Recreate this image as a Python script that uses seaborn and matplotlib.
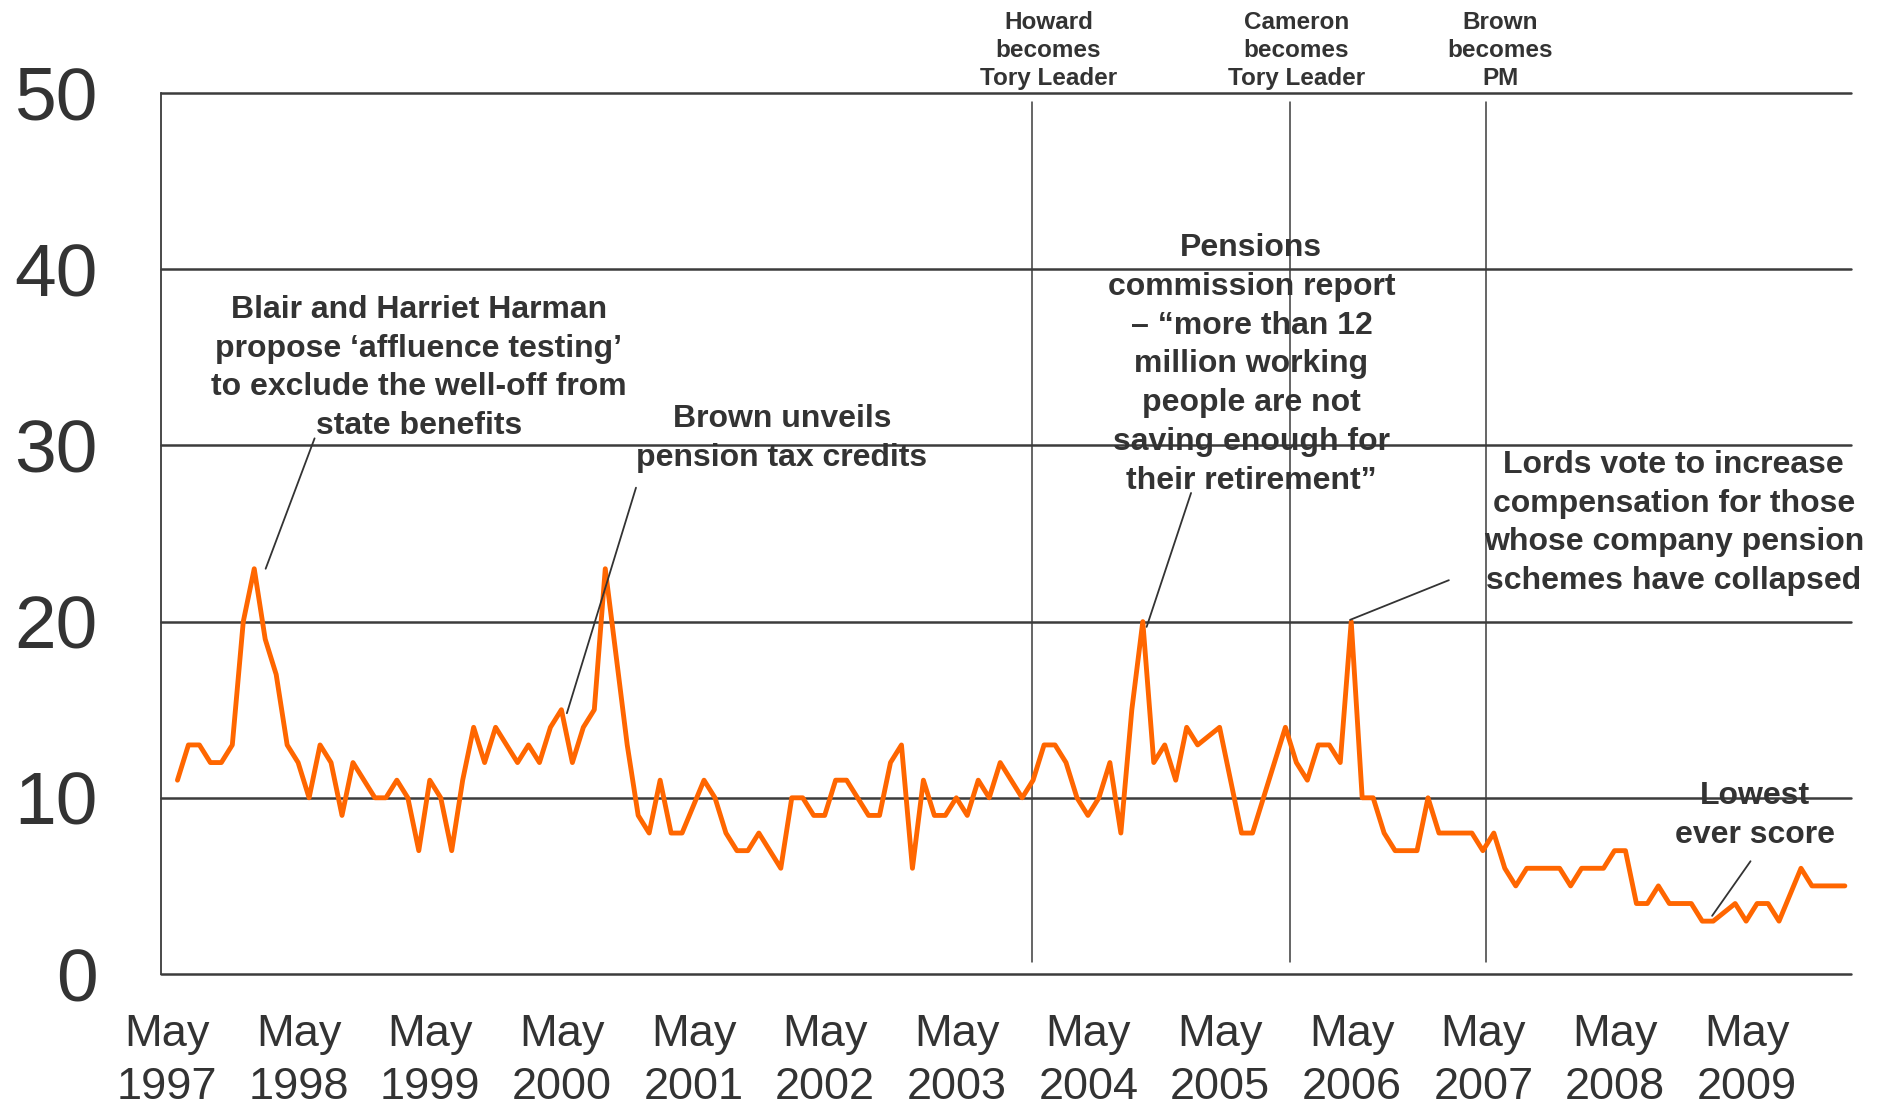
import numpy as np
import pandas as pd
import seaborn as sns
import matplotlib.pyplot as plt
from matplotlib.transforms import ScaledTranslation

# Monthly score from June 1997 (None = no reading that month)
score = [11, 13, 13, 12, 12, 13, 20, 23, 19, 17, 13, 12,
         10, 13, 12, 9, 12, 11, 10, 10, 11, 10, 7, 11,
         10, 7, 11, 14, 12, 14, 13, 12, 13, 12, 14, 15,
         12, 14, 15, 23, 18, 13, 9, 8, 11, 8, 8, None,
         11, 10, 8, 7, 7, 8, 7, 6, 10, 10, 9, 9,
         11, 11, 10, 9, 9, 12, 13, 6, 11, 9, 9, 10,
         9, 11, 10, 12, 11, 10, 11, 13, 13, 12, 10, 9,
         10, 12, 8, 15, 20, 12, 13, 11, 14, 13, None, 14,
         11, 8, 8, 10, 12, 14, 12, 11, 13, 13, 12, 20,
         10, 10, 8, 7, 7, 7, 10, 8, 8, 8, 8, 7,
         8, 6, 5, 6, 6, 6, 6, 5, 6, 6, 6, 7,
         7, 4, 4, 5, 4, 4, 4, 3, 3, None, 4, 3,
         4, 4, 3, None, 6, 5, 5, 5, 5]

tick_years = list(range(1997, 2010))
tick_labels = ['May\n%d' % y for y in tick_years]
y_ticks = [0, 10, 20, 30, 40, 50]

# political events (months after May 1997)
event_labels = ['Howard\nbecomes\nTory Leader', 'Cameron\nbecomes\nTory Leader', 'Brown\nbecomes\nPM']
event_month = [79.4, 102.9, 120.8]

df = pd.DataFrame({'month': np.arange(1, len(score) + 1) + 0.5, 'score': score}).dropna()

sns.set_style('white')
plt.rcParams['font.family'] = ['Liberation Sans', 'DejaVu Sans']

TXT = '#333333'
LN = '#3c3c3c'

fig = plt.figure(figsize=(18.77, 11.02), dpi=100)
ax = fig.add_axes([161 / 1877, 128 / 1102, 1690 / 1877, 881 / 1102])

sns.lineplot(data=df, x='month', y='score', color='#FF6600', lw=3.5, ax=ax, zorder=5)

ax.set_xlim(0, 154.06)
ax.set_ylim(0, 50)
ax.set_xlabel('')
ax.set_ylabel('')

for s in ['top', 'right', 'bottom']:
    ax.spines[s].set_visible(False)
ax.spines['left'].set_color(LN)
ax.spines['left'].set_linewidth(1.3)

ax.set_yticks(y_ticks)
ax.tick_params(axis='y', length=19.4, width=1.8, color=LN, pad=26,
               labelsize=54, labelcolor=TXT)
ax.yaxis.grid(True, color=LN, lw=1.8)
ax.xaxis.grid(False)
for gl in ax.yaxis.get_gridlines():
    gl.set_clip_on(False)

ax.set_xticks([12 * i for i in range(len(tick_years))])
ax.set_xticklabels(tick_labels, linespacing=1.36)
ax.tick_params(axis='x', length=10, width=1.2, color=LN, pad=19,
               labelsize=32.5, labelcolor=TXT)
shift = ScaledTranslation(6 / 100, 0, fig.dpi_scale_trans)
for lbl in ax.get_xticklabels():
    lbl.set_transform(lbl.get_transform() + shift)

# event lines with labels above the plot
label_month = [80.9, 103.5, 122.1]
for m, lm, txt in zip(event_month, label_month, event_labels):
    ax.plot([m, m], [0.66, 49.5], color=LN, lw=1.1, zorder=3)
    ax.text(lm, 50.15, txt, ha='center', va='bottom', fontsize=17.5,
            fontweight='bold', color=TXT, linespacing=1.28, clip_on=False)

notes = [
    ("Blair and Harriet Harman\npropose \u2018affluence testing\u2019\nto exclude the well-off from\nstate benefits",
     (23.5, 34.4), (14.0, 30.4), (9.54, 23.0)),
    ("Brown unveils\npension tax credits", (56.6, 30.4), (43.3, 27.6), (37.0, 14.8)),
    ("Pensions\ncommission report\n\u2013 \u201cmore than 12\nmillion working\npeople are not\nsaving enough for\ntheir retirement\u201d",
     (99.4, 34.6), (93.9, 27.3), (89.85, 19.7)),
    ("Lords vote to increase\ncompensation for those\nwhose company pension\nschemes have collapsed",
     (137.9, 25.6), (117.4, 22.35), (108.4, 20.1)),
    ("Lowest\never score", (145.3, 9.0), (144.9, 6.4), (141.4, 3.3)),
]
for txt, pos, p0, p1 in notes:
    ax.text(pos[0], pos[1], txt, ha='center', va='center', fontsize=23,
            fontweight='bold', color=TXT, linespacing=1.38, zorder=6)
    ax.annotate('', xy=p1, xytext=p0,
                arrowprops=dict(arrowstyle='-', color=TXT, lw=1.3,
                                shrinkA=0, shrinkB=0), zorder=6)

fig.savefig('out.png', dpi=100)
